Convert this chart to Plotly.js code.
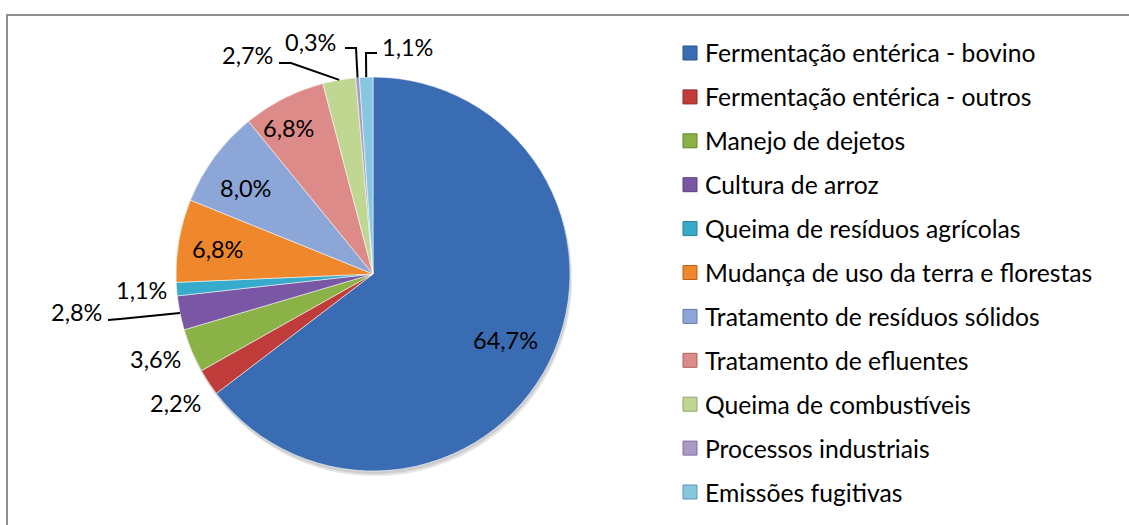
<!DOCTYPE html>
<html><head><meta charset="utf-8">
<script src="https://cdn.plot.ly/plotly-3.0.1.min.js"></script>
<style>html,body{margin:0;padding:0;background:#fff}#chart{width:1129px;height:525px}</style>
</head><body><div id="chart"></div>
<script>
const categories = [
  "Fermentação entérica - bovino",
  "Fermentação entérica - outros",
  "Manejo de dejetos",
  "Cultura de arroz",
  "Queima de resíduos agrícolas",
  "Mudança de uso da terra e florestas",
  "Tratamento de resíduos sólidos",
  "Tratamento de efluentes",
  "Queima de combustíveis",
  "Processos industriais",
  "Emissões fugitivas"
];
const shares = [64.7, 2.2, 3.6, 2.8, 1.1, 6.8, 8.0, 6.8, 2.7, 0.3, 1.1];
const shareLabels = shares.map(v => v.toFixed(1).replace('.', ',') + '%');

const colors = ['#3A6CB3','#C03C3A','#8AB246','#7A57A4','#36ABCB','#EF872C',
                '#8CA6D8','#DD8B89','#C0D792','#AA99C6','#88C8DF'];
const edgeColors = ['#2A5287','#8E2A28','#63833A','#57407A','#2A8098','#B8621C',
                    '#6479A8','#A86462','#8FA46A','#7E6F9A','#5E9AAE'];

const W = 1129, H = 525;
const px = x => x / W, py = y => 1 - y / H;
const CX = 373, CY = 274, R = 197;
const FONT = 'Lato, "Open Sans", sans-serif';
const FS_LABEL = 23.5;
const FS_LEGEND = 24.7;

// label text centres (pixels)
const labelXY = [[505,340],[175,403],[155,359],[76,312],[141,290],[218,249],[245,188],[288,128],[247,55],[310,42],[407,47]];
// leader line starts (pixels) for small slices
const leaders = {3: [[108,320],[120,319]], 8: [[279,63],[291,63]], 9: [[345,48],[356,48]], 10: [[377,53],[366,53]]};

const total = shares.reduce((a,b)=>a+b,0);
let cum = 0;
const midAng = shares.map(v => { const m = (cum + v/2) / total * 2 * Math.PI; cum += v; return m; });

const shapes = [];
// frame
shapes.push({type:'path', xref:'paper', yref:'paper',
  path:`M ${px(7)},${py(530)} L ${px(7)},${py(15)} L ${px(1135)},${py(15)}`,
  line:{color:'#8E8E8E', width:2}});
// soft shadow under pie
shapes.push({type:'circle', xref:'paper', yref:'paper', layer:'below',
  x0:px(CX-R+2), x1:px(CX+R+2), y0:py(CY+R+5), y1:py(CY-R+5),
  fillcolor:'rgba(0,0,0,0.10)', line:{width:0}});
shapes.push({type:'circle', xref:'paper', yref:'paper', layer:'below',
  x0:px(CX-R+1), x1:px(CX+R+1), y0:py(CY+R+3), y1:py(CY-R+3),
  fillcolor:'rgba(0,0,0,0.10)', line:{width:0}});

// leader lines
Object.keys(leaders).forEach(k => {
  const i = +k, pts = leaders[k];
  const ex = CX + R * Math.sin(midAng[i]), ey = CY - R * Math.cos(midAng[i]);
  const all = pts.concat([[ex, ey]]);
  shapes.push({type:'path', xref:'paper', yref:'paper',
    path: all.map((p,j)=>(j?'L ':'M ')+px(p[0])+','+py(p[1])).join(' '),
    line:{color:'#000', width:2}});
});

const annotations = shareLabels.map((t,i) => ({
  text:t, xref:'paper', yref:'paper', x:px(labelXY[i][0]), y:py(labelXY[i][1]),
  xanchor:'center', yanchor:'middle', showarrow:false,
  font:{family:FONT, size:FS_LABEL, color:'#000'}
}));

// legend (manual, to reproduce spacing)
const LX = 683, LS = 14, LY0 = 53, LDY = 43.9;
categories.forEach((c,i) => {
  const yc = LY0 + i * LDY;
  shapes.push({type:'rect', xref:'paper', yref:'paper',
    x0:px(LX), x1:px(LX+LS), y0:py(yc+LS/2), y1:py(yc-LS/2),
    fillcolor:colors[i], line:{color:edgeColors[i], width:1}});
  annotations.push({text:c, xref:'paper', yref:'paper', x:px(703), y:py(yc),
    xanchor:'left', yanchor:'middle', showarrow:false,
    font:{family:FONT, size:FS_LEGEND, color:'#000'}});
});

const trace = {
  type:'pie', labels:categories, values:shares, sort:false, direction:'clockwise',
  rotation:0, textinfo:'none', hoverinfo:'none',
  marker:{colors:colors, line:{color:'rgba(255,255,255,0.55)', width:1}},
  domain:{x:[px(CX-R), px(CX+R)], y:[py(CY+R), py(CY-R)]},
  showlegend:false
};

Plotly.newPlot('chart', [trace], {
  width:W, height:H, margin:{l:0,r:0,t:0,b:0},
  paper_bgcolor:'#fff', plot_bgcolor:'#fff',
  showlegend:false, shapes:shapes, annotations:annotations
}, {displayModeBar:false, staticPlot:true});
</script></body></html>
